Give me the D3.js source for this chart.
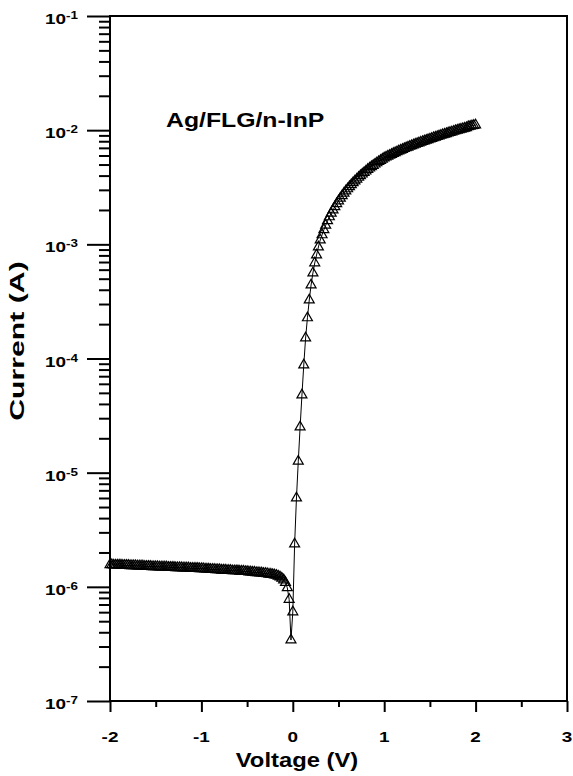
<!DOCTYPE html>
<html>
<head>
<meta charset="utf-8">
<script src="https://cdn.jsdelivr.net/npm/d3@7"></script>
<style>
  body { margin: 0; background: #fff; }
  svg { display: block; font-family: "Liberation Sans", Arial, sans-serif; font-weight: bold; }
</style>
</head>
<body>
<svg id="chart" width="573" height="776"></svg>
<script>
// sweep voltages (V)
const voltage = [
  -2,-1.98,-1.96,-1.94,-1.92,-1.9,-1.88,-1.86,-1.84,-1.82,
  -1.8,-1.78,-1.76,-1.74,-1.72,-1.7,-1.68,-1.66,-1.64,-1.62,
  -1.6,-1.58,-1.56,-1.54,-1.52,-1.5,-1.48,-1.46,-1.44,-1.42,
  -1.4,-1.38,-1.36,-1.34,-1.32,-1.3,-1.28,-1.26,-1.24,-1.22,
  -1.2,-1.18,-1.16,-1.14,-1.12,-1.1,-1.08,-1.06,-1.04,-1.02,
  -1,-0.98,-0.96,-0.94,-0.92,-0.9,-0.88,-0.86,-0.84,-0.82,
  -0.8,-0.78,-0.76,-0.74,-0.72,-0.7,-0.68,-0.66,-0.64,-0.62,
  -0.6,-0.58,-0.56,-0.54,-0.52,-0.5,-0.48,-0.46,-0.44,-0.42,
  -0.4,-0.38,-0.36,-0.34,-0.32,-0.3,-0.28,-0.26,-0.24,-0.22,
  -0.2,-0.18,-0.16,-0.14,-0.12,-0.1,-0.08,-0.06,-0.04,-0.02,
  0,0.02,0.04,0.06,0.08,0.1,0.12,0.14,0.16,0.18,
  0.2,0.22,0.24,0.26,0.28,0.3,0.32,0.34,0.36,0.38,
  0.4,0.42,0.44,0.46,0.48,0.5,0.52,0.54,0.56,0.58,
  0.6,0.62,0.64,0.66,0.68,0.7,0.72,0.74,0.76,0.78,
  0.8,0.82,0.84,0.86,0.88,0.9,0.92,0.94,0.96,0.98,
  1,1.02,1.04,1.06,1.08,1.1,1.12,1.14,1.16,1.18,
  1.2,1.22,1.24,1.26,1.28,1.3,1.32,1.34,1.36,1.38,
  1.4,1.42,1.44,1.46,1.48,1.5,1.52,1.54,1.56,1.58,
  1.6,1.62,1.64,1.66,1.68,1.7,1.72,1.74,1.76,1.78,
  1.8,1.82,1.84,1.86,1.88,1.9,1.92,1.94,1.96,1.98,
  2
];

// current for -2 .. 0 V, in microamps
const currentRevMicroA = [
  1.56,1.56,1.55,1.55,1.55,1.55,1.55,1.54,1.54,1.54,
  1.54,1.53,1.53,1.53,1.53,1.52,1.52,1.52,1.52,1.51,
  1.51,1.51,1.51,1.50,1.50,1.50,1.50,1.49,1.49,1.49,
  1.49,1.49,1.48,1.48,1.48,1.48,1.47,1.47,1.47,1.47,
  1.46,1.46,1.46,1.46,1.45,1.45,1.45,1.45,1.45,1.44,
  1.44,1.44,1.43,1.43,1.43,1.42,1.42,1.42,1.41,1.41,
  1.41,1.40,1.40,1.40,1.39,1.39,1.39,1.38,1.38,1.38,
  1.38,1.37,1.37,1.37,1.36,1.36,1.35,1.35,1.34,1.34,
  1.33,1.33,1.32,1.32,1.31,1.31,1.30,1.29,1.29,1.28,
  1.27,1.26,1.24,1.22,1.19,1.15,1.09,0.98,0.776,0.342,
  0.603
];

// current for 0.02 .. 2 V, in milliamps
const currentFwdMilliA = [
  0.00237,0.0060,0.0126,0.0251,0.0479,0.0877,0.151,0.227,0.325,
  0.440,0.561,0.687,0.807,0.948,1.09,1.21,1.34,1.47,1.61,
  1.74,1.87,2.00,2.13,2.27,2.40,2.53,2.66,2.80,2.93,
  3.06,3.19,3.33,3.46,3.59,3.72,3.86,3.99,4.12,4.25,
  4.38,4.52,4.65,4.78,4.91,5.04,5.17,5.30,5.43,5.57,
  5.70,5.81,5.92,6.02,6.13,6.24,6.35,6.46,6.56,6.67,
  6.78,6.89,7.00,7.10,7.21,7.31,7.42,7.52,7.62,7.73,
  7.83,7.94,8.04,8.14,8.25,8.35,8.46,8.57,8.67,8.78,
  8.89,9.00,9.11,9.21,9.32,9.43,9.54,9.65,9.76,9.87,
  9.98,10.1,10.2,10.3,10.4,10.5,10.7,10.8,10.9,11.0,
  11.1
];

const xTickValues = [-2, -1, 0, 1, 2, 3];
const xMinorValues = [-1.5, -0.5, 0.5, 1.5, 2.5];
const yExponents = [-1, -2, -3, -4, -5, -6, -7];
const yMinorFactors = [2, 3, 4, 5, 6, 7, 8, 9];
const title = "Ag/FLG/n-InP";
const xTitle = "Voltage (V)";
const yTitle = "Current (A)";

const current = currentRevMicroA.map(d => d * 1e-6).concat(currentFwdMilliA.map(d => d * 1e-3));
const points = voltage.map((v, i) => [v, current[i]]);

const svg = d3.select("#chart");
const plotLeft = 110, plotRight = 567, plotTop = 16, plotBottom = 701;

const x = d3.scaleLinear().domain([-2, 3]).range([plotLeft, plotRight]);
const y = d3.scaleLog().domain([1e-7, 1e-1]).range([plotBottom, plotTop]);

// glyphs in the original are wider than Arial, so stretch them
function wideText(parent, px, py, str, size, anchor, stretch, rotate) {
  const rot = rotate ? ` rotate(${rotate})` : "";
  return parent.append("text")
    .attr("transform", `translate(${px},${py})${rot} scale(${stretch},1)`)
    .attr("text-anchor", anchor)
    .attr("font-size", size)
    .text(str);
}

// axes (ticks only, labels drawn by hand for superscripts)
const decades = yExponents.map(e => Math.pow(10, e));
const minors = [];
decades.slice(1).forEach(d => yMinorFactors.forEach(f => minors.push(d * f)));

const styleAxis = g => {
  g.select(".domain").remove();
  g.selectAll("line").attr("stroke", "#000").attr("stroke-width", 2);
};

svg.append("g").attr("transform", `translate(0,${plotBottom})`)
  .call(d3.axisBottom(x).tickValues(xTickValues).tickSize(11).tickFormat(""))
  .call(styleAxis);
svg.append("g").attr("transform", `translate(0,${plotBottom})`)
  .call(d3.axisBottom(x).tickValues(xMinorValues).tickSize(6).tickFormat(""))
  .call(styleAxis);
svg.append("g").attr("transform", `translate(${plotLeft},0)`)
  .call(d3.axisLeft(y).tickValues(decades).tickSize(23).tickFormat(""))
  .call(styleAxis);
svg.append("g").attr("transform", `translate(${plotLeft},0)`)
  .call(d3.axisLeft(y).tickValues(minors).tickSize(11).tickFormat(""))
  .call(styleAxis);

// frame
svg.append("rect")
  .attr("x", x(-2)).attr("y", y(1e-1))
  .attr("width", x(3) - x(-2)).attr("height", y(1e-7) - y(1e-1))
  .attr("fill", "none").attr("stroke", "#000").attr("stroke-width", 2);

// tick labels
const labels = svg.append("g");
xTickValues.forEach(t => wideText(labels, x(t), 742, String(t), 15.5, "middle", 1.22));
yExponents.forEach(e => {
  const ty = y(Math.pow(10, e));
  wideText(labels, 66, ty + 8, "10", 15.5, "end", 1.22);
  wideText(labels, 66, ty + 3, String(e), 11, "start", 1.22);
});

// titles
wideText(svg, 297, 767, xTitle, 19.5, "middle", 1.22);
wideText(svg, 24, 341, yTitle, 19.5, "middle", 1.55, -90);
wideText(svg, 166, 127, title, 20, "start", 1.24);

// data
const line = d3.line().x(d => x(d[0])).y(d => y(d[1]));
svg.append("path")
  .datum(points)
  .attr("d", line)
  .attr("fill", "none").attr("stroke", "#000").attr("stroke-width", 1);

const tri = d3.symbol(d3.symbolTriangle, 43);
svg.append("g").selectAll("path")
  .data(points)
  .enter().append("path")
  .attr("d", tri)
  .attr("transform", d => `translate(${x(d[0])},${y(d[1])})`)
  .attr("fill", "none").attr("stroke", "#000").attr("stroke-width", 1.2);
</script>
</body>
</html>
